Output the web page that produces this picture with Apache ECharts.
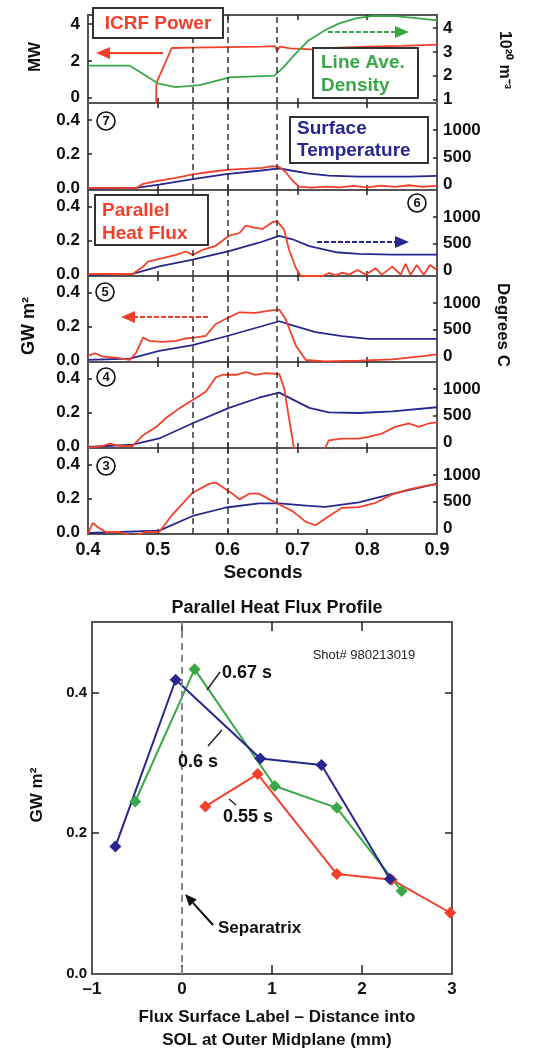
<!DOCTYPE html>
<html>
<head>
<meta charset="utf-8">
<script src="https://cdn.jsdelivr.net/npm/echarts@6/dist/echarts.min.js"></script>
<style>
  html, body { margin: 0; padding: 0; background: #fff; }
  #chart { width: 537px; height: 1055px; }
</style>
</head>
<body>
<div id="chart"></div>
<script>
// ---- tick labels ----
var timeTicks = [0.4, 0.5, 0.6, 0.7, 0.8, 0.9]
var powerTicks = [0, 2, 4]
var densityTicks = [1, 2, 3, 4]
var fluxTicks = [0, 0.2, 0.4]
var tempTicks = [0, 500, 1000]
var profXTicks = [-1, 0, 1, 2, 3]
var profYTicks = [0, 0.2, 0.4]
var markTimes = [0.55, 0.6, 0.67]

// ---- top panel: ICRF power (MW) and line average density (1e20 m^-3) ----
var icrfPower = [[0.4975, -0.6], [0.498, 0.8], [0.52, 2.7], [0.55, 2.72], [0.6, 2.75], [0.65, 2.78], [0.668, 2.8], [0.671, 2.55], [0.675, 2.78], [0.69, 2.68], [0.72, 2.62], [0.75, 2.7], [0.8, 2.78], [0.85, 2.82], [0.9, 2.88]]
var lineDensity = [[0.4, 2.42], [0.46, 2.42], [0.5, 1.68], [0.525, 1.52], [0.56, 1.6], [0.603, 1.93], [0.667, 2.0], [0.68, 2.35], [0.695, 2.85], [0.716, 3.48], [0.74, 3.92], [0.76, 4.2], [0.785, 4.42], [0.81, 4.51], [0.84, 4.5], [0.87, 4.42], [0.9, 4.32]]

// ---- probes 7..3: parallel heat flux (GW m^2) and surface temperature (C) ----
var flux7 = [[0.4, 0.0], [0.469, 0.0], [0.479, 0.024], [0.498, 0.04], [0.526, 0.06], [0.55, 0.08], [0.574, 0.094], [0.602, 0.108], [0.631, 0.114], [0.65, 0.118], [0.664, 0.128], [0.674, 0.124], [0.683, 0.094], [0.693, 0.044], [0.702, 0.008], [0.72, 0.002], [0.74, 0.008], [0.76, 0.004], [0.78, 0.012], [0.8, 0.004], [0.82, 0.014], [0.84, 0.006], [0.86, 0.016], [0.88, 0.006], [0.9, 0.014]]
var temp7 = [[0.4, -75], [0.469, -62], [0.502, -1], [0.55, 102], [0.598, 191], [0.645, 254], [0.674, 298], [0.693, 254], [0.717, 203], [0.745, 165], [0.788, 146], [0.86, 146], [0.9, 159]]

var flux6 = [[0.4, 0.0], [0.464, 0.0], [0.479, 0.044], [0.486, 0.074], [0.507, 0.094], [0.526, 0.114], [0.54, 0.134], [0.55, 0.114], [0.564, 0.144], [0.583, 0.168], [0.602, 0.228], [0.617, 0.244], [0.626, 0.288], [0.64, 0.274], [0.65, 0.268], [0.664, 0.308], [0.671, 0.314], [0.681, 0.264], [0.688, 0.144], [0.698, 0.034], [0.705, -0.012], [0.736, -0.012], [0.745, 0.006], [0.755, -0.008], [0.764, 0.008], [0.774, -0.004], [0.786, 0.024], [0.798, -0.004], [0.812, 0.034], [0.821, -0.004], [0.836, 0.044], [0.848, -0.004], [0.855, 0.06], [0.862, -0.004], [0.871, 0.054], [0.881, -0.004], [0.89, 0.054], [0.9, 0.024]]
var temp6 = [[0.4, -81], [0.464, -62], [0.502, 77], [0.55, 203], [0.602, 361], [0.645, 519], [0.674, 646], [0.693, 583], [0.717, 456], [0.755, 342], [0.788, 311], [0.836, 298], [0.9, 298]]

var flux5 = [[0.4, 0.024], [0.41, 0.04], [0.421, 0.02], [0.44, 0.014], [0.46, 0.0], [0.469, 0.044], [0.479, 0.134], [0.488, 0.114], [0.507, 0.108], [0.526, 0.114], [0.54, 0.128], [0.555, 0.134], [0.569, 0.144], [0.583, 0.214], [0.602, 0.254], [0.617, 0.284], [0.64, 0.28], [0.66, 0.294], [0.674, 0.3], [0.683, 0.244], [0.698, 0.084], [0.712, 0.0], [0.74, -0.008], [0.788, -0.004], [0.836, 0.004], [0.883, 0.024], [0.9, 0.034]]
var temp5 = [[0.4, -62], [0.46, -37], [0.502, 109], [0.55, 216], [0.602, 393], [0.645, 551], [0.674, 658], [0.693, 583], [0.726, 456], [0.764, 380], [0.802, 330], [0.9, 330]]

var flux4 = [[0.4, -0.01], [0.421, 0.0], [0.431, 0.014], [0.445, 0.0], [0.464, 0.0], [0.479, 0.064], [0.498, 0.114], [0.512, 0.168], [0.531, 0.224], [0.55, 0.274], [0.569, 0.324], [0.583, 0.408], [0.593, 0.424], [0.612, 0.424], [0.626, 0.44], [0.64, 0.424], [0.655, 0.434], [0.674, 0.428], [0.681, 0.344], [0.688, 0.164], [0.697, -0.06], [0.734, -0.06], [0.745, 0.034], [0.764, 0.044], [0.788, 0.044], [0.802, 0.054], [0.821, 0.074], [0.84, 0.114], [0.86, 0.134], [0.874, 0.114], [0.888, 0.134], [0.9, 0.14]]
var temp4 = [[0.4, -81], [0.464, -37], [0.502, 77], [0.55, 361], [0.602, 646], [0.645, 835], [0.674, 930], [0.693, 804], [0.717, 646], [0.745, 564], [0.788, 551], [0.836, 583], [0.9, 658]]

var flux3 = [[0.4, -0.01], [0.407, 0.054], [0.414, 0.028], [0.426, 0.0], [0.445, 0.0], [0.464, -0.026], [0.483, 0.0], [0.502, 0.0], [0.521, 0.104], [0.55, 0.234], [0.574, 0.288], [0.583, 0.294], [0.607, 0.228], [0.617, 0.194], [0.631, 0.228], [0.645, 0.228], [0.66, 0.194], [0.674, 0.164], [0.693, 0.124], [0.712, 0.06], [0.726, 0.04], [0.745, 0.094], [0.764, 0.144], [0.788, 0.148], [0.812, 0.174], [0.836, 0.224], [0.86, 0.254], [0.883, 0.274], [0.9, 0.284]]
var temp3 = [[0.4, -81], [0.502, -37], [0.55, 235], [0.598, 393], [0.645, 469], [0.674, 469], [0.717, 425], [0.74, 406], [0.788, 488], [0.836, 646], [0.9, 835]]

// ---- profile (mm, GW m^2) ----
var prof055 = [[0.26, 0.238], [0.84, 0.284], [1.72, 0.142], [2.33, 0.134], [2.98, 0.087]]
var prof060 = [[-0.74, 0.181], [-0.07, 0.418], [0.87, 0.306], [1.55, 0.297], [2.31, 0.135]]
var prof067 = [[-0.52, 0.245], [0.14, 0.433], [1.03, 0.267], [1.72, 0.236], [2.44, 0.118]]

var RED = '#f2402b'
var BLUE = '#27278f'
var GREEN = '#3aa848'
var FRAME = '#555'
var FONT = '"Liberation Sans", Arial, sans-serif'

var panels = [
  { red: flux7, blue: temp7 },
  { red: flux6, blue: temp6 },
  { red: flux5, blue: temp5 },
  { red: flux4, blue: temp4 },
  { red: flux3, blue: temp3 }
]
var tops = [15, 103, 190, 276, 362, 448]
var hts = [88, 87, 86, 86, 86, 86]

var grids = []
var xAxes = []
var yAxes = []
var series = []
var noLine = { show: false, onZero: false }

function labelStyle (size) {
  return { fontSize: size, fontWeight: 'bold', color: '#111', fontFamily: FONT }
}
function plain (v) { return String(v) }

function markLines (color, dash) {
  return {
    silent: true,
    symbol: 'none',
    label: { show: false },
    lineStyle: { type: dash, color: color, width: 1.5 },
    data: markTimes.map(function (t) { return { xAxis: t } })
  }
}

tops.forEach(function (top, i) {
  var last = i === tops.length - 1
  grids.push({ left: 88, width: 349, top: top, height: hts[i], show: true, borderColor: FRAME, borderWidth: 2 })
  var tick = { show: true, inside: true, length: 5, customValues: [0.5, 0.6, 0.7, 0.8], lineStyle: { color: '#222', width: 1.5 } }
  xAxes.push({
    type: 'value', gridIndex: i, min: 0.4, max: 0.9, position: 'bottom',
    axisLine: noLine, splitLine: { show: false }, axisTick: tick,
    axisLabel: Object.assign({ show: last, customValues: timeTicks, margin: 7, formatter: function (v) { return v.toFixed(1) } }, labelStyle(18))
  })
  xAxes.push({
    type: 'value', gridIndex: i, min: 0.4, max: 0.9, position: 'top',
    axisLine: noLine, splitLine: { show: false }, axisTick: tick, axisLabel: { show: false }
  })
  var yTick = { show: true, inside: true, length: 4, lineStyle: { color: '#222', width: 1.5 } }
  if (i === 0) {
    yAxes.push({
      type: 'value', gridIndex: i, min: -0.3, max: 4.5, position: 'left',
      axisLine: noLine, splitLine: { show: false },
      axisTick: Object.assign({ customValues: powerTicks }, yTick),
      axisLabel: Object.assign({ customValues: powerTicks, margin: 8, formatter: plain }, labelStyle(17))
    })
    yAxes.push({
      type: 'value', gridIndex: i, min: 0.85, max: 4.55, position: 'right',
      axisLine: noLine, splitLine: { show: false },
      axisTick: Object.assign({ customValues: densityTicks }, yTick),
      axisLabel: Object.assign({ customValues: densityTicks, margin: 6, formatter: plain }, labelStyle(17))
    })
    series.push({
      type: 'line', xAxisIndex: 0, yAxisIndex: 0, data: icrfPower, showSymbol: false,
      lineStyle: { color: RED, width: 1.8 }, itemStyle: { color: RED },
      markLine: markLines('#333', [6, 4])
    })
    series.push({
      type: 'line', xAxisIndex: 0, yAxisIndex: 1, data: lineDensity, showSymbol: false,
      lineStyle: { color: GREEN, width: 1.8 }, itemStyle: { color: GREEN }
    })
  } else {
    var p = panels[i - 1]
    yAxes.push({
      type: 'value', gridIndex: i, min: -0.012, max: 0.5, position: 'left',
      axisLine: noLine, splitLine: { show: false },
      axisTick: Object.assign({ customValues: fluxTicks.slice(1) }, yTick),
      axisLabel: Object.assign({ customValues: fluxTicks, margin: 8, formatter: function (v) { return v.toFixed(1) } }, labelStyle(17))
    })
    yAxes.push({
      type: 'value', gridIndex: i, min: -100, max: 1500, position: 'right',
      axisLine: noLine, splitLine: { show: false },
      axisTick: Object.assign({ customValues: tempTicks.slice(1) }, yTick),
      axisLabel: Object.assign({ customValues: tempTicks, margin: 6, formatter: plain }, labelStyle(17))
    })
    series.push({
      type: 'line', xAxisIndex: 2 * i, yAxisIndex: 2 * i + 1, data: p.blue, showSymbol: false,
      lineStyle: { color: BLUE, width: 1.8 }, itemStyle: { color: BLUE },
      markLine: markLines('#333', [6, 4])
    })
    series.push({
      type: 'line', xAxisIndex: 2 * i, yAxisIndex: 2 * i, data: p.red, showSymbol: false,
      lineStyle: { color: RED, width: 1.8 }, itemStyle: { color: RED }
    })
  }
})

// profile chart
var g = tops.length
grids.push({ left: 92, width: 360, top: 622, height: 352, show: true, borderColor: FRAME, borderWidth: 2 })
var profTick = { show: true, inside: true, length: 9, customValues: [0, 1, 2], lineStyle: { color: '#222', width: 1.5 } }
xAxes.push({
  type: 'value', gridIndex: g, min: -1, max: 3, position: 'bottom',
  axisLine: noLine, splitLine: { show: false }, axisTick: profTick,
  axisLabel: Object.assign({ customValues: profXTicks, margin: 7, formatter: function (v) { return v < 0 ? '\u2013' + Math.abs(v) : String(v) } }, labelStyle(17))
})
xAxes.push({
  type: 'value', gridIndex: g, min: -1, max: 3, position: 'top',
  axisLine: noLine, splitLine: { show: false }, axisTick: profTick, axisLabel: { show: false }
})
var profYTick = { show: true, inside: true, length: 7, customValues: [0.2, 0.4], lineStyle: { color: '#222', width: 1.5 } }
yAxes.push({
  type: 'value', gridIndex: g, min: 0, max: 0.5, position: 'left',
  axisLine: noLine, splitLine: { show: false }, axisTick: profYTick,
  axisLabel: Object.assign({ customValues: profYTicks, margin: 5, formatter: function (v) { return v.toFixed(1) } }, labelStyle(15))
})
yAxes.push({
  type: 'value', gridIndex: g, min: 0, max: 0.5, position: 'right',
  axisLine: noLine, splitLine: { show: false }, axisTick: profYTick, axisLabel: { show: false }
})
var profSeries = [[prof055, RED], [prof067, GREEN], [prof060, BLUE]]
profSeries.forEach(function (s, k) {
  var item = {
    type: 'line', xAxisIndex: 2 * g, yAxisIndex: 2 * g, data: s[0],
    symbol: 'diamond', symbolSize: 12, showSymbol: true,
    lineStyle: { color: s[1], width: 2 }, itemStyle: { color: s[1] }
  }
  if (k === 0) {
    item.markLine = { silent: true, symbol: 'none', label: { show: false }, lineStyle: { type: [7, 5], color: '#888', width: 2 }, data: [{ xAxis: 0 }] }
  }
  series.push(item)
})

// ---- annotations ----
function text (x, y, s, color, size, align, rot, weight) {
  return {
    type: 'text', x: x, y: y, rotation: rot || 0, z: 100,
    style: {
      text: s, fill: color, font: (weight || 'bold') + ' ' + size + 'px ' + FONT,
      align: align || 'center', textAlign: align || 'center', verticalAlign: 'middle', textVerticalAlign: 'middle'
    }
  }
}
function box (x, y, w, h) {
  return { type: 'rect', z: 90, shape: { x: x, y: y, width: w, height: h }, style: { fill: '#fff', stroke: '#333', lineWidth: 2 } }
}
function arrow (x1, y1, x2, y2, color, dash, head, width) {
  var a = Math.atan2(y2 - y1, x2 - x1)
  var hl = head || 13
  var hw = hl * 0.42
  var bx = x2 - hl * Math.cos(a)
  var by = y2 - hl * Math.sin(a)
  var px = -Math.sin(a) * hw
  var py = Math.cos(a) * hw
  return [
    { type: 'line', z: 100, shape: { x1: x1, y1: y1, x2: bx, y2: by }, style: { stroke: color, lineWidth: width || 2, lineDash: dash || null } },
    { type: 'polygon', z: 100, shape: { points: [[x2, y2], [bx + px, by + py], [bx - px, by - py]] }, style: { fill: color } }
  ]
}
function circled (x, y, n) {
  return [
    { type: 'circle', z: 100, shape: { cx: x, cy: y, r: 9 }, style: { fill: '#fff', stroke: '#111', lineWidth: 1.6 } },
    text(x, y + 0.5, n, '#111', 13, 'center')
  ]
}

var graphics = [
  box(93, 8, 130, 30),
  text(158, 24, 'ICRF Power', RED, 19),
  box(313, 48, 105, 50),
  text(321, 63, 'Line Ave.', GREEN, 19, 'left'),
  text(321, 86, 'Density', GREEN, 19, 'left'),
  box(290, 117, 138, 46),
  text(297, 129, 'Surface', BLUE, 19, 'left'),
  text(297, 151, 'Temperature', BLUE, 19, 'left'),
  box(95, 195, 113, 50),
  text(102, 211, 'Parallel', RED, 19, 'left'),
  text(102, 234, 'Heat Flux', RED, 19, 'left'),
  text(35, 57, 'MW', '#111', 17, 'center', Math.PI / 2),
  text(504, 60, '10\u00b2\u2070 m\u207b\u00b3', '#111', 16, 'center', -Math.PI / 2),
  text(29, 326, 'GW m\u00b2', '#111', 18, 'center', Math.PI / 2),
  text(503, 325, 'Degrees C', '#111', 17, 'center', -Math.PI / 2),
  text(263, 573, 'Seconds', '#111', 19),
  // profile chart texts
  text(277, 608, 'Parallel Heat Flux Profile', '#111', 18),
  text(364, 655, 'Shot# 980213019', '#222', 13, 'center', 0, 'normal'),
  text(222, 673, '0.67 s', '#111', 18, 'left'),
  text(178, 762, '0.6 s', '#111', 18, 'left'),
  text(223, 817, '0.55 s', '#111', 18, 'left'),
  text(218, 928, 'Separatrix', '#111', 17, 'left'),
  text(37, 795, 'GW m\u00b2', '#111', 17, 'center', Math.PI / 2),
  text(277, 1017, 'Flux Surface Label \u2013 Distance into', '#111', 17),
  text(277, 1040, 'SOL at Outer Midplane (mm)', '#111', 17),
  { type: 'line', z: 100, shape: { x1: 207, y1: 690, x2: 220, y2: 672 }, style: { stroke: '#222', lineWidth: 1.5 } },
  { type: 'line', z: 100, shape: { x1: 208, y1: 746, x2: 222, y2: 730 }, style: { stroke: '#222', lineWidth: 1.5 } },
  { type: 'line', z: 100, shape: { x1: 229, y1: 799, x2: 236, y2: 805 }, style: { stroke: '#222', lineWidth: 1.5 } }
]
graphics = graphics
  .concat(arrow(163, 53, 96, 53, RED, null, 14))
  .concat(arrow(328, 32, 409, 32, GREEN, [5, 2], 14))
  .concat(arrow(317, 242, 409, 242, BLUE, [5, 2], 14))
  .concat(arrow(208, 317, 121, 317, RED, [5, 2], 14))
  .concat(arrow(213, 925, 185, 894, '#111', null, 12))
  .concat(circled(106, 121, '7'))
  .concat(circled(417, 203, '6'))
  .concat(circled(105, 292, '5'))
  .concat(circled(106, 377, '4'))
  .concat(circled(106, 466, '3'))

var chart = echarts.init(document.getElementById('chart'))
chart.setOption({
  backgroundColor: '#fff',
  animation: false,
  grid: grids,
  xAxis: xAxes,
  yAxis: yAxes,
  series: series,
  graphic: { elements: graphics }
})
window.addEventListener('resize', function () { chart.resize() })
</script>
</body>
</html>
